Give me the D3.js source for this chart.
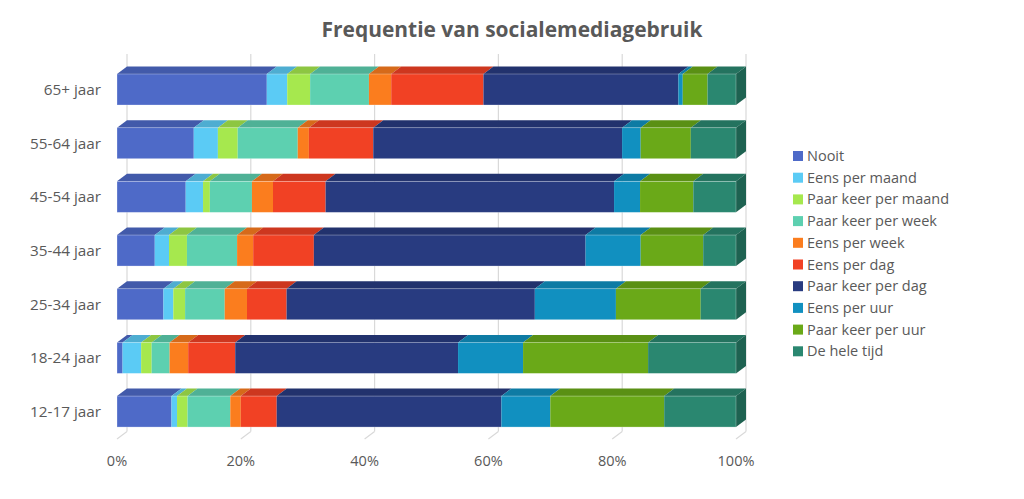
<!DOCTYPE html>
<html><head><meta charset="utf-8">
<script src="https://cdn.jsdelivr.net/npm/d3@7"></script>
<style>body{margin:0;background:#fff}svg{display:block}</style>
</head><body>
<script>
const categories = ["65+ jaar","55-64 jaar","45-54 jaar","35-44 jaar","25-34 jaar","18-24 jaar","12-17 jaar"];
const seriesNames = ["Nooit","Eens per maand","Paar keer per maand","Paar keer per week","Eens per week","Eens per dag","Paar keer per dag","Eens per uur","Paar keer per uur","De hele tijd"];
const nooit            = [24.2, 12.4, 11.1, 6.1, 7.5, 0.9, 8.8];
const eensPerMaand     = [3.3, 3.9, 2.8, 2.3, 1.6, 3.0, 0.9];
const paarPerMaand     = [3.7, 3.2, 1.1, 2.9, 1.9, 1.7, 1.7];
const paarPerWeek      = [9.5, 9.7, 6.8, 8.1, 6.4, 2.9, 6.9];
const eensPerWeek      = [3.6, 1.8, 3.4, 2.6, 3.6, 3.0, 1.7];
const eensPerDag       = [14.9, 10.4, 8.5, 9.8, 6.4, 7.6, 5.8];
const paarPerDag       = [31.5, 40.2, 46.6, 43.9, 40.1, 36.0, 36.3];
const eensPerUur       = [0.7, 3.0, 4.2, 8.9, 13.1, 10.5, 7.9];
const paarPerUur       = [4.0, 8.1, 8.6, 10.1, 13.7, 20.2, 18.4];
const heleTijd         = [4.6, 7.3, 6.9, 5.3, 5.7, 14.2, 11.6];
const seriesValues = [nooit, eensPerMaand, paarPerMaand, paarPerWeek, eensPerWeek, eensPerDag, paarPerDag, eensPerUur, paarPerUur, heleTijd];
const tickValues = [0, 20, 40, 60, 80, 100];
const tickLabels = ["0%","20%","40%","60%","80%","100%"];

const colors = ["#4E6AC8","#5BCBF5","#A6E84E","#5DD0B0","#FB7D1E","#F14124","#283B80","#1190C0","#6AA918","#2A8770"];
const W = 1024, H = 499;
const dx = 10, dy = 7.5;
const font = "'Open Sans', sans-serif";
const txt = "#595959";

const svg = d3.select("body").append("svg").attr("width", W).attr("height", H);

const x = d3.scaleLinear().domain([0, 100]).range([117, 736]);
const y = d3.scaleBand().domain(categories).range([62.67, 438.4]).paddingInner(0.4224).paddingOuter(0.2112);

// title
svg.append("text").attr("x", 512).attr("y", 37).attr("text-anchor", "middle")
  .attr("font-family", font).attr("font-weight", 700).attr("font-size", 21)
  .attr("fill", txt).attr("textLength", 381).attr("lengthAdjust", "spacingAndGlyphs")
  .text("Frequentie van socialemediagebruik");

// back-wall gridlines + floor ticks
const floorFront = 439, floorBack = floorFront - dy;
const g = svg.append("g").attr("stroke", "#D9D9D9").attr("stroke-width", 1.2).attr("fill", "none");
tickValues.forEach(t => {
  g.append("line").attr("x1", x(t) + dx).attr("x2", x(t) + dx).attr("y1", 54).attr("y2", floorBack);
  g.append("line").attr("x1", x(t) + dx).attr("y1", floorBack).attr("x2", x(t)).attr("y2", floorFront);
});
svg.append("g").selectAll("text").data(tickValues).join("text")
  .attr("x", d => x(d)).attr("y", 466).attr("text-anchor", "middle")
  .attr("font-family", font).attr("font-size", 14.5).attr("fill", txt)
  .text((d, i) => tickLabels[i]);

// bars
const stackData = categories.map((c, i) => {
  const o = { cat: c };
  seriesNames.forEach((s, j) => o[s] = seriesValues[j][i]);
  return o;
});
const stacked = d3.stack().keys(seriesNames)(stackData);

const bars = svg.append("g");
categories.forEach((c, ci) => {
  const yt = y(c), h = y.bandwidth();
  const row = bars.append("g");
  stacked.forEach((layer, si) => {
    const d = layer[ci];
    const x0 = x(d[0]), x1 = x(d[1]);
    if (x1 - x0 <= 0) return;
    const col = d3.color(colors[si]);
    row.append("path")
      .attr("d", `M${x0},${yt}L${x0 + dx},${yt - dy}L${x1 + dx},${yt - dy}L${x1},${yt}Z`)
      .attr("fill", col.darker(0.45));
    row.append("rect").attr("x", x0).attr("y", yt).attr("width", x1 - x0).attr("height", h)
      .attr("fill", colors[si]);
  });
  const xe = x(100);
  row.append("path")
    .attr("d", `M${xe},${yt}L${xe + dx},${yt - dy}L${xe + dx},${yt + h - dy}L${xe},${yt + h}Z`)
    .attr("fill", d3.color(colors[colors.length - 1]).darker(0.9));
  row.append("rect").attr("x", x(0)).attr("y", yt).attr("width", x(100) - x(0)).attr("height", h)
    .attr("fill", "none").attr("stroke", "#ffffff").attr("stroke-opacity", 0.35).attr("stroke-width", 0.8);
});

// category labels
svg.append("g").selectAll("text").data(categories).join("text")
  .attr("x", 101).attr("y", d => y(d) + y.bandwidth() / 2 + 5.5).attr("text-anchor", "end")
  .attr("font-family", font).attr("font-size", 15.3).attr("fill", txt).text(d => d);

// legend
const lg = svg.append("g");
seriesNames.forEach((s, i) => {
  const ly = 156 + i * 21.7;
  lg.append("rect").attr("x", 793).attr("y", ly - 5).attr("width", 10).attr("height", 10).attr("fill", colors[i]);
  lg.append("text").attr("x", 807).attr("y", ly + 5).attr("font-family", font)
    .attr("font-size", 14.5).attr("fill", txt).text(s);
});
</script>
</body></html>
